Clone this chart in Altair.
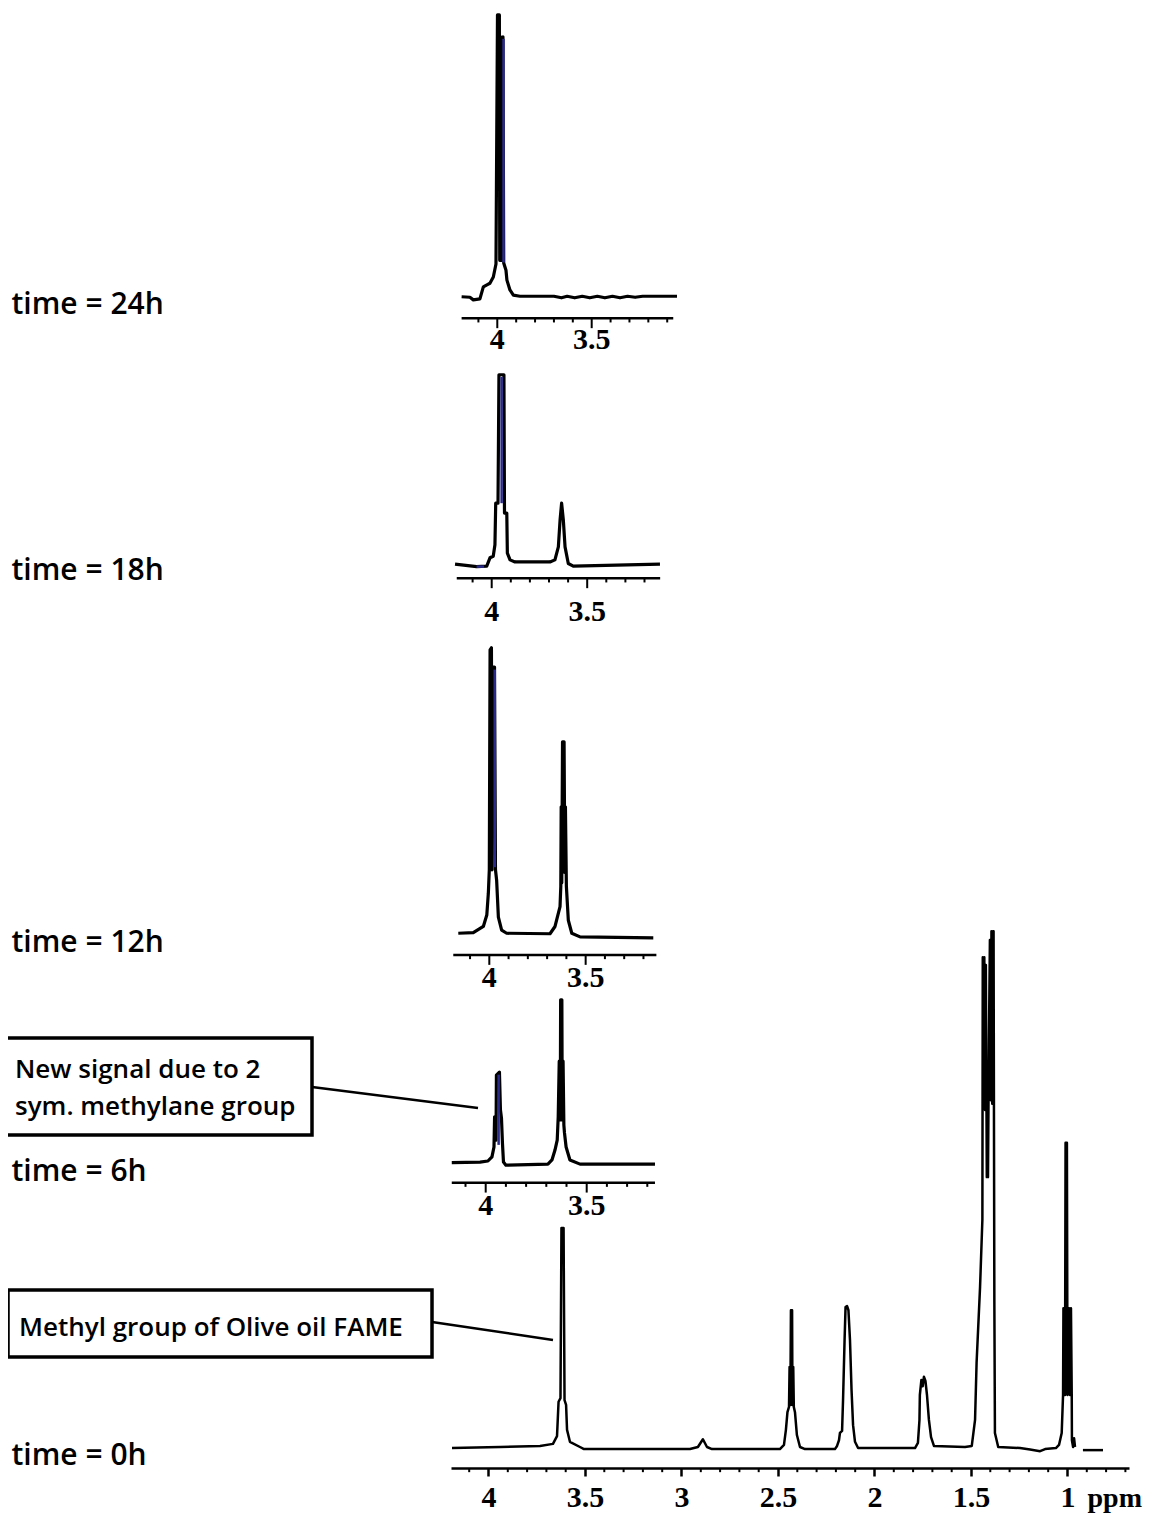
import altair as alt
import pandas as pd

# ------------------------------------------------------------------ data
TIME_LABELS = ["time = 0h", "time = 6h", "time = 12h", "time = 18h", "time = 24h"]
OFFSETS = [0.0, 54.6, 98.5, 170.0, 221.3]          # stacking offset of each spectrum (a.u.)

# full spectrum, t = 0 h  (ppm, intensity a.u.)
PPM_0H = [4.189, 3.940, 3.733, 3.666, 3.645, 3.637, 3.627, 3.622, 3.611, 3.606, 3.598, 3.593, 3.578, 3.526, 3.505,
          2.956, 2.915, 2.889, 2.868, 2.842,
          2.490, 2.469, 2.459, 2.451, 2.443, 2.440, 2.436, 2.433, 2.427, 2.425, 2.421, 2.418, 2.412, 2.402, 2.386, 2.360,
          2.205, 2.194, 2.184, 2.179, 2.168, 2.163, 2.155, 2.150, 2.142, 2.135, 2.127, 2.119, 2.111, 2.101, 2.085,
          1.790, 1.775, 1.767, 1.765, 1.757, 1.750, 1.744, 1.736, 1.728, 1.718, 1.707, 1.692,
          1.531, 1.496, 1.479, 1.471, 1.453, 1.441, 1.439, 1.434, 1.431, 1.428, 1.427, 1.423, 1.418, 1.412, 1.407,
          1.402, 1.397, 1.394, 1.390, 1.386, 1.383, 1.379, 1.376, 1.359,
          1.246, 1.194, 1.142, 1.116, 1.060, 1.044, 1.030, 1.023, 1.021, 1.013, 1.010, 1.003, 1.000, 0.992, 0.987,
          0.982, 0.978, 0.977, 0.971, 0.966, 0.961]
INT_0H = [-0.2, 0.0, 0.2, 0.6, 2.1, 8.7, 9.4, 42.1, 42.1, 9.0, 8.1, 3.3, 1.0, 0.0, -0.4,
          -0.4, 0.0, 1.5, 0.0, -0.4,
          -0.4, 0.4, 3.3, 6.7, 7.7, 15.4, 8.1, 26.3, 26.3, 8.1, 15.4, 7.7, 6.7, 2.3, 0.0, -0.4,
          -0.4, 0.2, 1.3, 2.7, 3.1, 9.0, 20.6, 26.9, 27.1, 26.3, 20.6, 11.0, 4.2, 1.0, -0.2,
          -0.2, 0.8, 5.2, 10.0, 12.9, 11.7, 13.5, 12.7, 10.0, 5.2, 1.9, 0.2,
          0.0, 0.2, 5.2, 16.2, 30.8, 43.7, 94.2, 66.0, 94.2, 65.0, 64.8, 92.7, 51.9, 51.9, 78.3,
          97.5, 66.7, 99.2, 66.0, 99.2, 99.2, 28.3, 2.7, 0.0,
          -0.2, -0.5, -0.8, -0.4, -0.2, 0.4, 2.7, 10.0, 26.7, 10.0, 58.5, 58.5, 10.0, 26.7, 10.0,
          26.7, 10.0, 1.3, 0.0, 1.7, 0.0]
PPM_0H_TAIL = [0.920, 0.816]
INT_0H_TAIL = [-0.6, -0.6]

# inset spectra (3.1 - 4.2 ppm region)
PPM_6H = [4.168, 4.028, 3.989, 3.969, 3.959, 3.956, 3.949, 3.947, 3.932, 3.927, 3.922, 3.917, 3.912, 3.900,
          3.692, 3.672, 3.657, 3.646, 3.641, 3.636, 3.631, 3.629, 3.623, 3.621, 3.617, 3.613, 3.610, 3.602,
          3.583, 3.533, 3.162]
INT_6H = [0.1, 0.2, 0.4, 1.2, 3.1, 8.9, 4.4, 16.9, 17.5, 10.2, 8.7, 3.8, 0.2, -0.4,
          -0.2, 0.6, 2.5, 4.4, 8.9, 19.6, 8.3, 31.4, 31.4, 8.3, 19.6, 7.3, 5.8, 3.1,
          0.6, -0.2, -0.2]

PPM_12H = [4.161, 4.083, 4.031, 4.013, 4.005, 4.000, 3.996, 3.989, 3.986, 3.983, 3.973, 3.968, 3.962, 3.953,
           3.936, 3.910,
           3.685, 3.659, 3.633, 3.629, 3.627, 3.624, 3.620, 3.612, 3.608, 3.605, 3.600, 3.590, 3.572, 3.529, 3.149]
INT_12H = [0.3, 0.4, 1.6, 3.8, 8.0, 12.5, 54.8, 55.2, 12.5, 51.5, 51.5, 12.5, 10.5, 3.4,
           0.9, 0.3,
           0.2, 1.6, 5.4, 9.3, 24.6, 10.0, 37.1, 37.1, 12.0, 24.6, 9.3, 2.8, 0.3, -0.4, -0.6]

PPM_18H = [4.192, 4.079, 4.026, 4.009, 3.992, 3.983, 3.979, 3.967, 3.962, 3.936, 3.933, 3.921, 3.918, 3.904,
           3.878, 3.695, 3.669, 3.651, 3.642, 3.634, 3.625, 3.616, 3.599, 3.573, 3.119]
INT_18H = [-0.2, -0.7, -0.6, 1.0, 1.3, 3.5, 11.5, 11.5, 36.2, 36.2, 9.6, 9.6, 1.9, 0.6,
           0.2, 0.2, 0.6, 3.1, 8.3, 11.5, 8.3, 3.1, -0.1, -0.6, -0.2]

PPM_24H = [4.189, 4.145, 4.127, 4.092, 4.074, 4.055, 4.039, 4.021, 4.007,
           3.999, 3.989, 3.987, 3.983, 3.975, 3.970, 3.966,
           3.954, 3.949, 3.933, 3.915, 3.880,
           3.700, 3.660, 3.630, 3.590, 3.550, 3.510, 3.470, 3.430, 3.390, 3.350, 3.310, 3.270, 3.230,
           3.048]
INT_24H = [-0.1, -0.2, -0.7, -0.5, 1.8, 2.2, 2.5, 3.7, 6.2,
           54.1, 54.1, 6.9, 49.9, 6.9, 49.9, 6.4,
           5.0, 3.1, 1.2, 0.2, 0.0,
           0.0, -0.3, 0.0, -0.3, 0.0, -0.3, 0.0, -0.3, 0.0, -0.3, 0.0, -0.2, 0.0,
           0.0]

# bluish overlay traces on the main peak of each inset
BLUE_PPM = {"6h": [3.936, 3.936], "12h": [3.972, 3.972], "18h": [3.948, 3.948, 4.079, 4.040], "24h": [3.967, 3.967]}
BLUE_INT = {"6h": [17.0, 3.5], "12h": [51.0, 13.0], "18h": [35.8, 11.5, -0.7, -0.7], "24h": [49.5, 6.5]}
BLUE_SEG = {"6h": [0, 0], "12h": [0, 0], "18h": [0, 0, 1, 1], "24h": [0, 0]}

# axis ticks
MAJOR_TICKS_0H = [4, 3.5, 3, 2.5, 2, 1.5, 1]
MINOR_TICKS_0H = [v / 10 for v in range(41, 6, -1) if v % 5 != 0]
INSET_MAJOR = [4, 3.5]
INSET_MINOR = [4.1, 3.9, 3.8, 3.7, 3.6, 3.4, 3.3, 3.2, 3.1]
INSET_LABELS = ["4", "3.5"]

# inset layout (x-scale domain, axis extent in ppm, axis level & label level in a.u.)
INSET_KEYS = ["6h", "12h", "18h", "24h"]
INSET_PPM = [PPM_6H, PPM_12H, PPM_18H, PPM_24H]
INSET_INT = [INT_6H, INT_12H, INT_18H, INT_24H]
INSET_DOMAIN = [[0.8153, 4.1718], [0.6803, 4.1988], [0.6633, 4.2131], [0.6541, 4.2452]]
INSET_AXIS_EXTENT = [[4.168, 3.162], [4.187, 3.133], [4.183, 3.118], [4.189, 3.068]]
INSET_AXIS_LEVEL = [50.83, 94.62, 167.06, 217.06]
INSET_LABEL_LEVEL = [46.4, 90.2, 160.6, 212.8]

# annotations (positions in ppm / a.u. of the bottom spectrum's scales)
ANN_TEXT = ["New signal due to 2\nsym. methylane group", "Methyl group of Olive oil FAME"]
ANN_BOX_X = [[6.5155, 4.9145], [6.4896, 4.2927]]
ANN_BOX_Y = [[78.65, 60.0], [30.19, 17.31]]
ANN_TEXT_XY = [[6.4534, 70.96], [6.4326, 21.35]]
ANN_LEAD = [[4.9145, 69.23, 4.0544, 65.19], [4.2927, 24.04, 3.6658, 20.58]]

# ------------------------------------------------------------------ styles
SERIF = "Liberation Serif"
SANS = "Open Sans"
Y_DOMAIN = [-4.038, 276.73]
XS0 = alt.Scale(domain=[0.6813, 4.1943], reverse=True, nice=False, zero=False)
YSCALE = alt.Scale(domain=Y_DOMAIN, nice=False, zero=False)

label_expr = "".join(
    f"datum.value == {v} ? '{t}' : " for v, t in zip(OFFSETS, TIME_LABELS)
) + "''"

Y_AXIS = alt.Axis(values=OFFSETS, labelExpr=label_expr, domain=False, ticks=False, tickSize=0, grid=False,
                  labelAlign="left", labelBaseline="middle", labelPadding=440, labelOffset=8,
                  labelFont=SANS, labelFontSize=30, labelFontWeight=600, labelColor="black", labelLimit=400,
                  labelOverlap=False, labelFlush=False, title=None)

X_AXIS = alt.Axis(values=MAJOR_TICKS_0H, labelExpr="'' + datum.value", title="ppm", grid=False,
                  domainColor="black", domainWidth=2.5, tickColor="black", tickWidth=2.5, tickSize=8,
                  labelFont=SERIF, labelFontWeight="bold", labelFontSize=30, labelColor="black",
                  labelPadding=30, labelBaseline="alphabetic", labelFlush=False, labelOverlap=False,
                  titleFont=SERIF, titleFontWeight="bold", titleFontSize=28, titleColor="black",
                  titleX=636, titleY=38, titleAlign="left", titleBaseline="alphabetic")


def Y(field):
    return alt.Y(field, type="quantitative", scale=YSCALE, axis=Y_AXIS)


# ------------------------------------------------------------------ bottom spectrum (t = 0 h)
df0 = pd.DataFrame({
    "ppm": PPM_0H + PPM_0H_TAIL,
    "y": [v + OFFSETS[0] for v in INT_0H + INT_0H_TAIL],
    "seg": [0] * len(PPM_0H) + [1] * len(PPM_0H_TAIL),
    "i": list(range(len(PPM_0H) + len(PPM_0H_TAIL))),
})
line0 = alt.Chart(df0).mark_line(color="black", strokeWidth=2.5, strokeJoin="round").encode(
    x=alt.X("ppm:Q", scale=XS0, axis=X_AXIS), y=Y("y"), detail="seg:N", order="i:Q")

df_minor0 = pd.DataFrame({"ppm": MINOR_TICKS_0H, "y": [Y_DOMAIN[0]] * len(MINOR_TICKS_0H),
                          "y2": [Y_DOMAIN[0] - 0.8] * len(MINOR_TICKS_0H)})
minor0 = alt.Chart(df_minor0).mark_rule(color="black", strokeWidth=2).encode(
    x=alt.X("ppm:Q", scale=XS0, axis=X_AXIS), y=Y("y"), y2="y2:Q")

df_box = pd.DataFrame({"x": [b[0] for b in ANN_BOX_X], "x2": [b[1] for b in ANN_BOX_X],
                       "y": [b[0] for b in ANN_BOX_Y], "y2": [b[1] for b in ANN_BOX_Y]})
boxes = alt.Chart(df_box).mark_rect(fill="white", stroke="black", strokeWidth=3.5).encode(
    x=alt.X("x:Q", scale=XS0, axis=X_AXIS), x2="x2:Q", y=Y("y"), y2="y2:Q")

df_txt = pd.DataFrame({"x": [p[0] for p in ANN_TEXT_XY], "y": [p[1] for p in ANN_TEXT_XY], "t": ANN_TEXT})
texts = alt.Chart(df_txt).mark_text(align="left", baseline="alphabetic", font=SANS, fontSize=26,
                                    fontWeight=600, lineBreak="\n", lineHeight=37, color="black").encode(
    x=alt.X("x:Q", scale=XS0, axis=X_AXIS), y=Y("y"), text="t:N")

df_lead = pd.DataFrame({"x": [l[0] for l in ANN_LEAD], "y": [l[1] for l in ANN_LEAD],
                        "x2": [l[2] for l in ANN_LEAD], "y2": [l[3] for l in ANN_LEAD]})
leads = alt.Chart(df_lead).mark_rule(color="black", strokeWidth=2.5).encode(
    x=alt.X("x:Q", scale=XS0, axis=X_AXIS), x2="x2:Q", y=Y("y"), y2="y2:Q")

group0 = alt.layer(line0, minor0, boxes, texts, leads)


# ------------------------------------------------------------------ insets
def inset(k):
    key = INSET_KEYS[k]
    off = OFFSETS[k + 1]
    xs = alt.Scale(domain=INSET_DOMAIN[k], reverse=True, nice=False, zero=False)

    def X(f):
        return alt.X(f, type="quantitative", scale=xs, axis=None)

    ppm, inten = INSET_PPM[k], INSET_INT[k]
    df = pd.DataFrame({"ppm": ppm, "y": [v + off for v in inten], "i": list(range(len(ppm)))})
    trace = alt.Chart(df).mark_line(color="black", strokeWidth=3.2, strokeJoin="round").encode(
        x=X("ppm"), y=Y("y"), order="i:Q")

    dfb = pd.DataFrame({"ppm": BLUE_PPM[key], "y": [v + off for v in BLUE_INT[key]],
                        "seg": BLUE_SEG[key], "i": list(range(len(BLUE_PPM[key])))})
    blue = alt.Chart(dfb).mark_line(color="#2a2a8c", strokeWidth=2.5).encode(
        x=X("ppm"), y=Y("y"), detail="seg:N", order="i:Q")

    lvl = INSET_AXIS_LEVEL[k]
    ext = INSET_AXIS_EXTENT[k]
    dfa = pd.DataFrame({"a": [ext[0]], "b": [ext[1]], "y": [lvl]})
    axis_line = alt.Chart(dfa).mark_rule(color="black", strokeWidth=2.5).encode(
        x=X("a"), x2="b:Q", y=Y("y"))

    minors = [t for t in INSET_MINOR if ext[1] <= t <= ext[0]]
    dft = pd.DataFrame({"ppm": INSET_MAJOR + minors,
                        "y": [lvl] * (len(INSET_MAJOR) + len(minors)),
                        "y2": [lvl - 1.9] * len(INSET_MAJOR) + [lvl - 0.8] * len(minors)})
    ticks = alt.Chart(dft).mark_rule(color="black", strokeWidth=2).encode(
        x=X("ppm"), y=Y("y"), y2="y2:Q")

    dfl = pd.DataFrame({"ppm": INSET_MAJOR, "t": INSET_LABELS, "y": [INSET_LABEL_LEVEL[k]] * 2})
    labels = alt.Chart(dfl).mark_text(font=SERIF, fontWeight="bold", fontSize=30, color="black",
                                      baseline="middle", align="center").encode(
        x=X("ppm"), y=Y("y"), text="t:N")

    return alt.layer(trace, blue, axis_line, ticks, labels)


insets = [inset(k) for k in range(4)]

chart = alt.layer(group0, *insets).resolve_scale(x="independent").properties(
    width=678, height=1460,
    autosize=alt.AutoSizeParams(type="none"),
    padding={"left": 443, "top": 0, "right": 18, "bottom": 46},
    background="white",
).configure_view(stroke=None)

chart.save("out.html", embed_options={"renderer": "svg", "actions": False})
